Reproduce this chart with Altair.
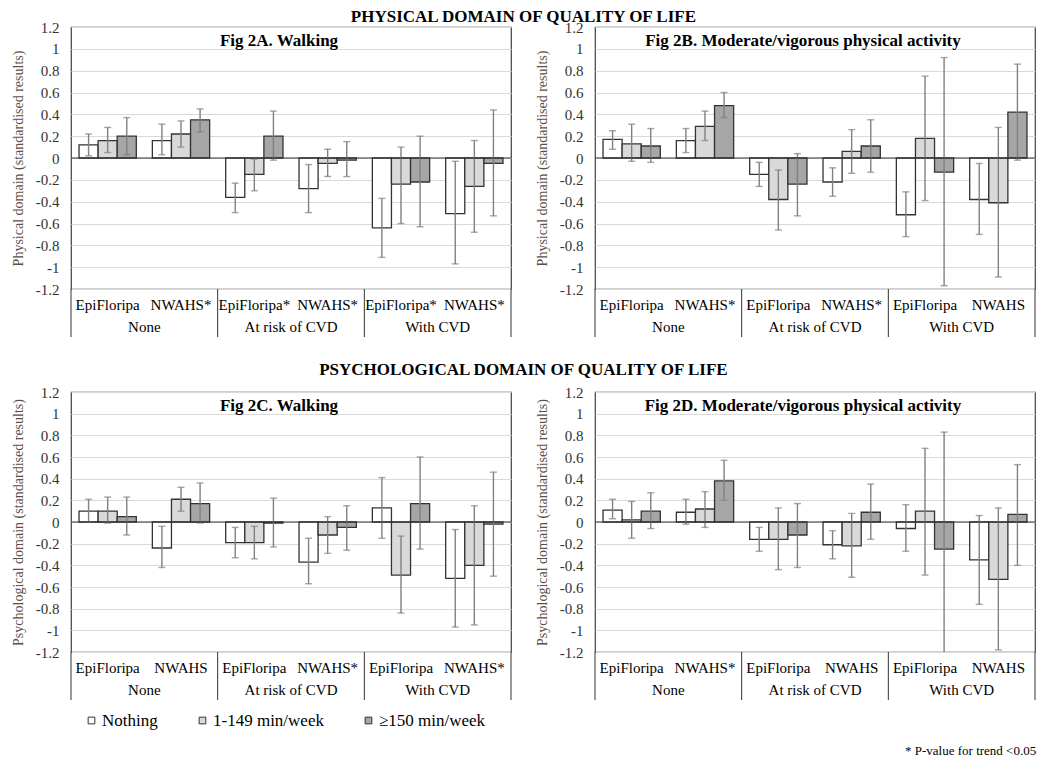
import altair as alt
import pandas as pd

FONT = "Liberation Serif"

groups = ["None", "At risk of CVD", "With CVD"]
levels = ["Nothing", "1-149 min/week", "≥150 min/week"]
slots = ["0", "1", "2", "3", "4", "5"]

# ---------- Fig 2A: Physical domain, walking ----------
labels_A = ["EpiFloripa", "NWAHS*", "EpiFloripa*", "NWAHS*", "EpiFloripa*", "NWAHS*"]
mean_A = [[0.12, 0.16, 0.20], [0.16, 0.22, 0.35], [-0.36, -0.15, 0.20],
          [-0.28, -0.05, -0.02], [-0.64, -0.24, -0.22], [-0.51, -0.26, -0.05]]
lo_A = [[0.02, 0.05, 0.03], [0.03, 0.10, 0.24], [-0.50, -0.30, -0.02],
        [-0.50, -0.17, -0.17], [-0.91, -0.60, -0.63], [-0.97, -0.68, -0.53]]
hi_A = [[0.22, 0.28, 0.37], [0.31, 0.34, 0.45], [-0.23, -0.01, 0.43],
        [-0.06, 0.08, 0.15], [-0.37, 0.10, 0.20], [-0.03, 0.16, 0.44]]

# ---------- Fig 2B: Physical domain, MVPA ----------
labels_B = ["EpiFloripa", "NWAHS*", "EpiFloripa", "NWAHS*", "EpiFloripa", "NWAHS"]
mean_B = [[0.17, 0.13, 0.11], [0.16, 0.29, 0.48], [-0.15, -0.38, -0.24],
          [-0.22, 0.06, 0.11], [-0.52, 0.18, -0.13], [-0.38, -0.41, 0.42]]
lo_B = [[0.08, -0.03, -0.04], [0.05, 0.16, 0.37], [-0.26, -0.66, -0.53],
        [-0.35, -0.14, -0.13], [-0.72, -0.39, -1.17], [-0.70, -1.09, -0.02]]
hi_B = [[0.25, 0.31, 0.27], [0.27, 0.43, 0.60], [-0.04, -0.11, 0.04],
        [-0.09, 0.26, 0.35], [-0.31, 0.75, 0.92], [-0.05, 0.28, 0.86]]

# ---------- Fig 2C: Psychological domain, walking ----------
labels_C = ["EpiFloripa", "NWAHS", "EpiFloripa", "NWAHS*", "EpiFloripa", "NWAHS*"]
mean_C = [[0.10, 0.10, 0.05], [-0.24, 0.21, 0.17], [-0.19, -0.19, -0.01],
          [-0.37, -0.12, -0.05], [0.13, -0.49, 0.17], [-0.52, -0.40, -0.02]]
lo_C = [[0.00, -0.01, -0.12], [-0.42, 0.10, -0.01], [-0.33, -0.34, -0.23],
        [-0.57, -0.29, -0.26], [-0.15, -0.84, -0.25], [-0.97, -0.95, -0.50]]
hi_C = [[0.21, 0.23, 0.23], [-0.04, 0.32, 0.36], [-0.05, -0.04, 0.22],
        [-0.15, 0.05, 0.15], [0.41, -0.13, 0.60], [-0.07, 0.15, 0.46]]

# ---------- Fig 2D: Psychological domain, MVPA ----------
labels_D = ["EpiFloripa", "NWAHS*", "EpiFloripa", "NWAHS", "EpiFloripa", "NWAHS"]
mean_D = [[0.11, 0.02, 0.10], [0.09, 0.12, 0.38], [-0.16, -0.16, -0.12],
          [-0.21, -0.22, 0.09], [-0.06, 0.10, -0.25], [-0.35, -0.53, 0.07]]
lo_D = [[0.03, -0.15, -0.06], [-0.02, -0.05, 0.20], [-0.27, -0.44, -0.42],
        [-0.34, -0.51, -0.16], [-0.27, -0.49, -1.30], [-0.76, -1.18, -0.40]]
hi_D = [[0.21, 0.19, 0.27], [0.21, 0.28, 0.57], [-0.05, 0.13, 0.17],
        [-0.08, 0.08, 0.35], [0.16, 0.68, 0.83], [0.06, 0.13, 0.53]]

ytick_values = [1.2, 1, 0.8, 0.6, 0.4, 0.2, 0, -0.2, -0.4, -0.6, -0.8, -1, -1.2]
fill_colors = ["#ffffff", "#d9d9d9", "#a6a6a6"]

W = 440


def panel(title, ytitle, labels, means, lows, highs, legend_on, h):
    rows = []
    for i in range(6):
        for j in range(3):
            rows.append(dict(slot=slots[i], level=levels[j], mean=means[i][j],
                             lo=lows[i][j], hi=highs[i][j]))
    df = pd.DataFrame(rows)
    lab_df = pd.DataFrame({"slot": slots, "label": labels})
    grp_df = pd.DataFrame({"slot": ["1", "3", "5"], "group": groups})
    sep_df = pd.DataFrame({"slot": ["0", "2", "4", "5"], "pos": [0, 0, 0, 1]})

    xscale = alt.Scale(domain=slots, paddingInner=0, paddingOuter=0)
    xenc = alt.X("slot:N", sort=slots, scale=xscale, axis=None)
    xoff = alt.XOffset("level:N", sort=levels,
                       scale=alt.Scale(domain=levels, paddingInner=0, paddingOuter=0.42))
    yscale = alt.Scale(domain=[-1.2, 1.2], nice=False)
    yaxis = alt.Axis(values=ytick_values, labelExpr="toString(datum.value)",
                     labelOverlap=False, tickCount=13,
                     grid=True, gridColor="#d9d9d9", gridWidth=1, domain=False, ticks=False,
                     labelFont=FONT, labelFontSize=15, labelColor="#333333", labelPadding=12,
                     title=ytitle, titleFont=FONT, titleFontSize=14, titleFontWeight="normal",
                     titleColor="#5a5048", titlePadding=10)

    if legend_on:
        legend = alt.Legend(orient="none", legendX=12, legendY=h + 60, direction="horizontal",
                            title=None, symbolType="square", symbolSize=45,
                            symbolStrokeColor="#333333", symbolStrokeWidth=1,
                            labelFont=FONT, labelFontSize=17, labelColor="#000000",
                            labelOffset=2, columnPadding=36, gridAlign="none")
    else:
        legend = None

    base = alt.Chart(df)
    bars = base.mark_bar(stroke="#333333", strokeWidth=1.3, clip=True).encode(
        x=xenc, xOffset=xoff,
        y=alt.Y("mean:Q", scale=yscale, axis=yaxis),
        color=alt.Color("level:N", sort=levels,
                        scale=alt.Scale(domain=levels, range=fill_colors), legend=legend),
    )
    zero = alt.Chart(pd.DataFrame({"z": [0]})).mark_rule(color="#333333", strokeWidth=1.2).encode(
        y=alt.Y("z:Q", scale=yscale))
    err = base.mark_rule(color="#808080", strokeWidth=1.4, clip=True).encode(
        x=xenc, xOffset=xoff, y=alt.Y("lo:Q", scale=yscale), y2="hi:Q")
    cap_lo = base.mark_tick(color="#808080", thickness=1.4, size=7, clip=True).encode(
        x=xenc, xOffset=xoff, y=alt.Y("lo:Q", scale=yscale))
    cap_hi = base.mark_tick(color="#808080", thickness=1.4, size=7, clip=True).encode(
        x=xenc, xOffset=xoff, y=alt.Y("hi:Q", scale=yscale))

    cohort_txt = alt.Chart(lab_df).mark_text(font=FONT, fontSize=15, color="#000000",
                                             baseline="middle").encode(
        x=xenc, y=alt.value(h + 16), text="label:N")
    group_txt = alt.Chart(grp_df).mark_text(font=FONT, fontSize=15, color="#000000",
                                            baseline="middle").encode(
        x=alt.X("slot:N", sort=slots, scale=xscale, axis=None, bandPosition=0),
        y=alt.value(h + 38), text="group:N")
    seps = []
    for p in [0, 1]:
        seps.append(alt.Chart(sep_df[sep_df.pos == p]).mark_rule(color="#333333", strokeWidth=1).encode(
            x=alt.X("slot:N", sort=slots, scale=xscale, axis=None, bandPosition=p),
            y=alt.value(h), y2=alt.value(h + 48)))
    ttl = alt.Chart(pd.DataFrame({"t": [title]})).mark_text(
        font=FONT, fontSize=17, fontWeight="bold", color="#000000", baseline="middle").encode(
        x=alt.value(W / 2 - 12), y=alt.value(14), text="t:N")

    return alt.layer(bars, err, cap_lo, cap_hi, zero, cohort_txt, group_txt, *seps, ttl).properties(
        width=W, height=h)


pA = panel("Fig 2A. Walking", "Physical domain (standardised results)",
           labels_A, mean_A, lo_A, hi_A, False, 262)
pB = panel("Fig 2B. Moderate/vigorous physical activity", "Physical domain (standardised results)",
           labels_B, mean_B, lo_B, hi_B, False, 262)
pC = panel("Fig 2C. Walking", "Psychological domain (standardised results)",
           labels_C, mean_C, lo_C, hi_C, True, 260)
pD = panel("Fig 2D. Moderate/vigorous physical activity", "Psychological domain (standardised results)",
           labels_D, mean_D, lo_D, hi_D, True, 260)

sec_title = dict(font=FONT, fontSize=17, fontWeight="bold", color="#000000", anchor="middle")

row1 = alt.hconcat(pA, pB, spacing=21,
                   title=alt.Title("PHYSICAL DOMAIN OF QUALITY OF LIFE", offset=-7, **sec_title))
row2 = alt.hconcat(pC, pD, spacing=21,
                   title=alt.Title("PSYCHOLOGICAL DOMAIN OF QUALITY OF LIFE", offset=5, **sec_title))

chart = alt.vconcat(row1, row2, spacing=22,
                    title=alt.Title("* P-value for trend <0.05", orient="bottom", anchor="end",
                                    font=FONT, fontSize=13, fontWeight="normal", color="#000000",
                                    offset=16)
                    ).resolve_scale(color="independent", y="independent", x="independent",
                                    xOffset="independent").resolve_legend(color="independent").configure_view(
    stroke="#404040", strokeWidth=1.2).properties(padding={"left": 2, "top": 0, "right": 6, "bottom": 2},
                                                  background="#ffffff")

chart.save("out.html", embed_options={"renderer": "svg", "actions": False})
